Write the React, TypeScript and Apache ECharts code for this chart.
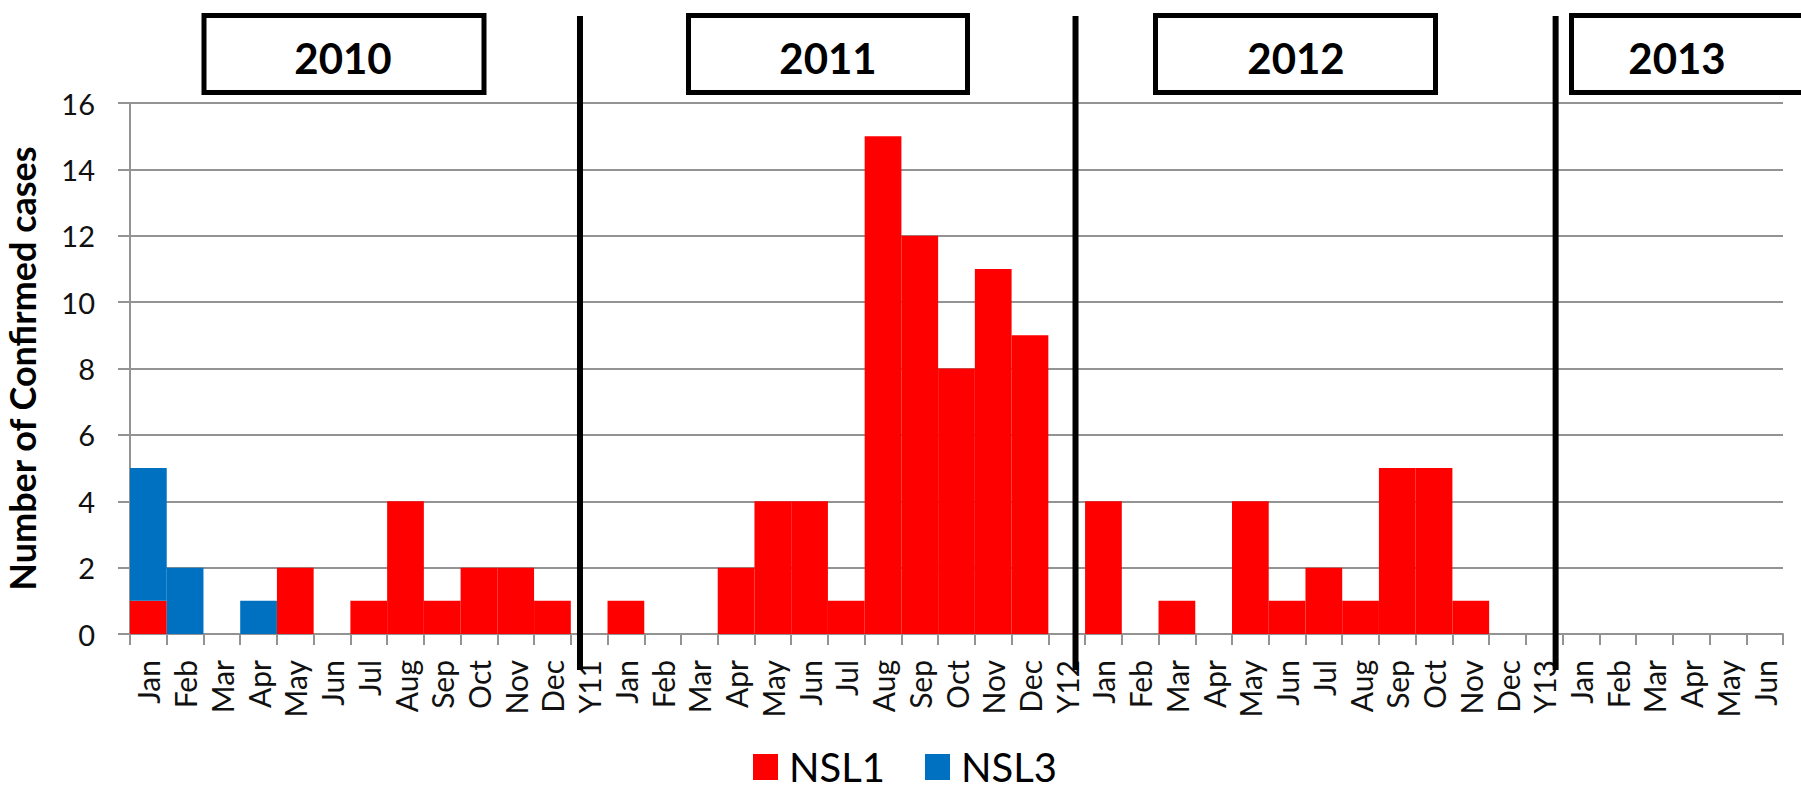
import React, { useEffect, useRef } from "react";
import * as echarts from "echarts";

const categories = [
  "Jan", "Feb", "Mar", "Apr", "May", "Jun", "Jul", "Aug", "Sep", "Oct", "Nov", "Dec",
  "Y11",
  "Jan", "Feb", "Mar", "Apr", "May", "Jun", "Jul", "Aug", "Sep", "Oct", "Nov", "Dec",
  "Y12",
  "Jan", "Feb", "Mar", "Apr", "May", "Jun", "Jul", "Aug", "Sep", "Oct", "Nov", "Dec",
  "Y13",
  "Jan", "Feb", "Mar", "Apr", "May", "Jun",
];

const nsl1 = [
  1, 0, 0, 0, 2, 0, 1, 4, 1, 2, 2, 1,
  0,
  1, 0, 0, 2, 4, 4, 1, 15, 12, 8, 11, 9,
  0,
  4, 0, 1, 0, 4, 1, 2, 1, 5, 5, 1, 0,
  0,
  0, 0, 0, 0, 0, 0,
];

const nsl3 = [
  4, 2, 0, 1, 0, 0, 0, 0, 0, 0, 0, 0,
  0,
  0, 0, 0, 0, 0, 0, 0, 0, 0, 0, 0, 0,
  0,
  0, 0, 0, 0, 0, 0, 0, 0, 0, 0, 0, 0,
  0,
  0, 0, 0, 0, 0, 0,
];

const seriesNames = ["NSL1", "NSL3"];
const yearLabels = ["2010", "2011", "2012", "2013"];
// year divider positions, in category units along the axis (0 = left edge)
const dividerPositions = [12.25, 25.74, 38.81];

const FONT = "Lato";
const GRID_COLOR = "#939393";

// layout of the year boxes (pixels)
const BOX_LAYOUT = [
  { x: 204, w: 280, tx: 343 },
  { x: 688.5, w: 279, tx: 828 },
  { x: 1155.5, w: 280, tx: 1296 },
  { x: 1571.5, w: 280, tx: 1677 },
];

export default function App() {
  const ref = useRef<HTMLDivElement>(null);

  useEffect(() => {
    document.body.style.margin = "0";
    const chart = echarts.init(ref.current!, null, { renderer: "svg" });
    chart.setOption({
      animation: false,
      backgroundColor: "#ffffff",
      textStyle: { fontFamily: FONT },
      grid: {
        left: 130,
        right: 18,
        top: 103,
        bottom: 159,
        containLabel: false,
        outerBoundsMode: "none",
      },
      legend: {
        data: seriesNames,
        left: 753,
        top: 747,
        padding: 0,
        itemWidth: 25,
        itemHeight: 26,
        itemGap: 40,
        icon: "rect",
        textStyle: {
          fontFamily: FONT,
          fontSize: 40,
          color: "#000",
          lineHeight: 40,
          padding: [0, 0, 0, 6],
        },
      },
      xAxis: [
        {
          type: "category",
          data: categories,
          boundaryGap: true,
          axisLine: { show: true, lineStyle: { color: GRID_COLOR, width: 2 } },
          axisTick: { show: true, interval: 0, length: 11, lineStyle: { color: GRID_COLOR, width: 2 } },
          axisLabel: {
            interval: 0,
            rotate: 90,
            margin: 26,
            fontSize: 30,
            fontFamily: FONT,
            color: "#111",
          },
        },
        { type: "value", min: 0, max: categories.length, show: false },
      ],
      yAxis: {
        type: "value",
        min: 0,
        max: 16,
        interval: 2,
        name: "Number of Confirmed cases",
        nameLocation: "middle",
        nameRotate: 90,
        nameGap: 90,
        nameTextStyle: { fontFamily: FONT, fontSize: 36, fontWeight: "bold", color: "#000" },
        axisLine: { show: true, lineStyle: { color: GRID_COLOR, width: 2 } },
        axisTick: { show: true, length: 12, lineStyle: { color: GRID_COLOR, width: 2 } },
        axisLabel: { fontSize: 29, fontFamily: FONT, color: "#111", margin: 35 },
        splitLine: { show: true, lineStyle: { color: GRID_COLOR, width: 2 } },
      },
      series: [
        {
          name: seriesNames[0],
          type: "bar",
          stack: "cases",
          data: nsl1,
          barCategoryGap: "0%",
          itemStyle: { color: "#FF0000" },
        },
        {
          name: seriesNames[1],
          type: "bar",
          stack: "cases",
          data: nsl3,
          barCategoryGap: "0%",
          itemStyle: { color: "#0070C0" },
        },
      ],
    });

    const graphics: any[] = [];
    dividerPositions.forEach((p) => {
      const x = chart.convertToPixel({ xAxisIndex: 1 }, p) as number;
      graphics.push({
        type: "line",
        shape: { x1: x, y1: 16, x2: x, y2: 670 },
        style: { stroke: "#000", lineWidth: 6 },
        z: 100,
      });
    });
    BOX_LAYOUT.forEach((b, i) => {
      graphics.push({
        type: "rect",
        shape: { x: b.x, y: 15.5, width: b.w, height: 77 },
        style: { fill: "#fff", stroke: "#000", lineWidth: 5 },
        z: 100,
      });
      graphics.push({
        type: "text",
        x: b.tx,
        y: 58,
        style: {
          text: yearLabels[i],
          align: "center",
          verticalAlign: "middle",
          fontFamily: FONT,
          fontWeight: "bold",
          fontSize: 42,
          fill: "#000",
        },
        z: 101,
      });
    });
    chart.setOption({ graphic: graphics });

    return () => chart.dispose();
  }, []);

  return (
    <div
      ref={ref}
      style={{ position: "absolute", left: 0, top: 0, width: 1801, height: 793 }}
    />
  );
}
